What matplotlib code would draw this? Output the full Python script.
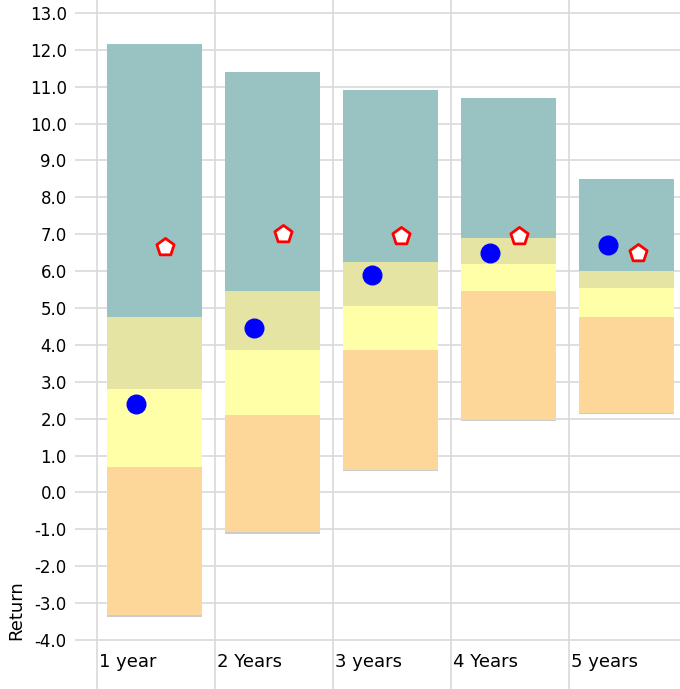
import matplotlib
matplotlib.use("Agg")
import matplotlib.pyplot as plt
import numpy as np

categories = ["1 year", "2 Years", "3 years", "4 Years", "5 years"]
mins = [-3.35, -1.1, 0.6, 1.95, 2.15]
q1 = [0.7, 2.1, 3.85, 5.45, 4.75]
med = [2.8, 3.85, 5.05, 6.2, 5.55]
q3 = [4.75, 5.45, 6.25, 6.9, 6.0]
maxs = [12.15, 11.4, 10.9, 10.7, 8.5]
dots = [2.4, 4.45, 5.9, 6.5, 6.7]
pents = [6.65, 7.0, 6.95, 6.95, 6.5]

fig = plt.figure(figsize=(6.8, 6.89), dpi=100)
ax = fig.add_axes([75/680, 0, 605/680, 1])
ax.set_xlim(-0.186, 4.94)
ax.set_ylim(-5.33, 13.35)
for s in ax.spines.values():
    s.set_visible(False)
for y in range(-4, 14):
    ax.axhline(y, color="#d9d9d9", lw=1.2, zorder=0)
for i in range(5):
    ax.axvline(i, color="#d9d9d9", lw=1.2, zorder=0)
x = np.arange(5) + 0.085
w = 0.805
segs = [(mins, q1, "#fdd699"), (q1, med, "#ffffa8"), (med, q3, "#e6e4a2"), (q3, maxs, "#99c2c2")]
for lo, hi, c in segs:
    ax.bar(x, np.array(hi) - np.array(lo), bottom=lo, width=w, align="edge", color=c, zorder=2)
ax.bar(x, 0.03, bottom=np.array(mins) - 0.015, width=w, align="edge", color="#cccccc", zorder=2)
ax.scatter(np.arange(5) + 0.33, dots, s=180, color="#0000ff", zorder=3)
ax.scatter(np.arange(5) + 0.58, pents, s=170, marker="p", facecolor="white", edgecolor="#ff0000", linewidth=2, zorder=3)
ax.set_xticks([])
ax.set_yticks(range(-4, 14))
ax.set_yticklabels([f"{v:.1f}" for v in range(-4, 14)], fontsize=12)
ax.tick_params(axis="y", length=0, pad=6)
for i, c in enumerate(categories):
    ax.text(i + 0.02, -4.6, c, fontsize=13, va="center", ha="left")
fig.text(16/680, 1 - 610/689, "Return", rotation=90, fontsize=13, va="center", ha="center")
fig.savefig("out.png")
